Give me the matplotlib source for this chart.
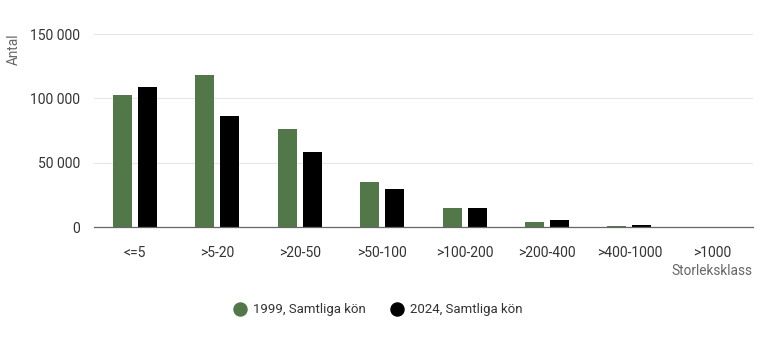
import matplotlib
matplotlib.use("Agg")
import matplotlib.pyplot as plt
from matplotlib.lines import Line2D
from matplotlib.patches import FancyBboxPatch
import numpy as np

categories = ["<=5", ">5-20", ">20-50", ">50-100", ">100-200", ">200-400", ">400-1000", ">1000"]
values_1999 = [102600, 118000, 76200, 34700, 14800, 4100, 800, 100]
values_2024 = [108800, 86300, 58300, 29800, 14600, 5700, 1500, 200]
yticks = [0, 50000, 100000, 150000]
ytick_labels = ["0", "50 000", "100 000", "150 000"]
series_labels = ["1999, Samtliga kön", "2024, Samtliga kön"]
colors = ["#52784a", "#000000"]

plt.rcParams['font.family'] = ['Roboto', 'DejaVu Sans']

fig = plt.figure(figsize=(7.68, 3.37), dpi=100)
ax = fig.add_axes([0.1221, 0.3264, 0.8584, 0.5726])

x = np.arange(len(categories))
w = 0.23
off = 0.152
ax.bar(x - off, values_1999, width=w, color=colors[0], zorder=3)
ax.bar(x + off, values_2024, width=w, color=colors[1], zorder=3)

ax.set_xlim(-0.5, len(categories) - 0.5)
ax.set_ylim(0, 150000)
ax.set_yticks(yticks)
ax.set_yticklabels(ytick_labels)
ax.set_xticks(x)
ax.set_xticklabels(categories)
ax.tick_params(axis='y', length=0, pad=10, labelsize=10, labelcolor="#333333")
ax.tick_params(axis='x', length=0, pad=14, labelsize=10, labelcolor="#333333")
ax.grid(axis='y', color="#e6e6e6", linewidth=0.8, zorder=0)
for s in ["top", "right", "left"]:
    ax.spines[s].set_visible(False)
ax.spines["bottom"].set_color("#666666")
ax.spines["bottom"].set_linewidth(0.9)
ax.spines["bottom"].set_zorder(4)

fig.text(14/768, 1 - 49/337, "Antal", rotation=90, ha="center", va="center",
         fontsize=9.8, color="#666666")
fig.text(752/768, 1 - 271/337, "Storleksklass", ha="right", va="center",
         fontsize=9.8, color="#666666")

handles = [Line2D([], [], marker='o', linestyle='none', markersize=9.4,
                  markerfacecolor=c, markeredgecolor=c) for c in colors]
fig.legend(handles, series_labels, loc="center", bbox_to_anchor=(378/768, 1 - 310/337),
           ncol=2, frameon=False, fontsize=9.5, handlelength=1.0, handletextpad=0.5,
           columnspacing=1.9, labelcolor="#333333")

fig.savefig("out.png", dpi=100)
